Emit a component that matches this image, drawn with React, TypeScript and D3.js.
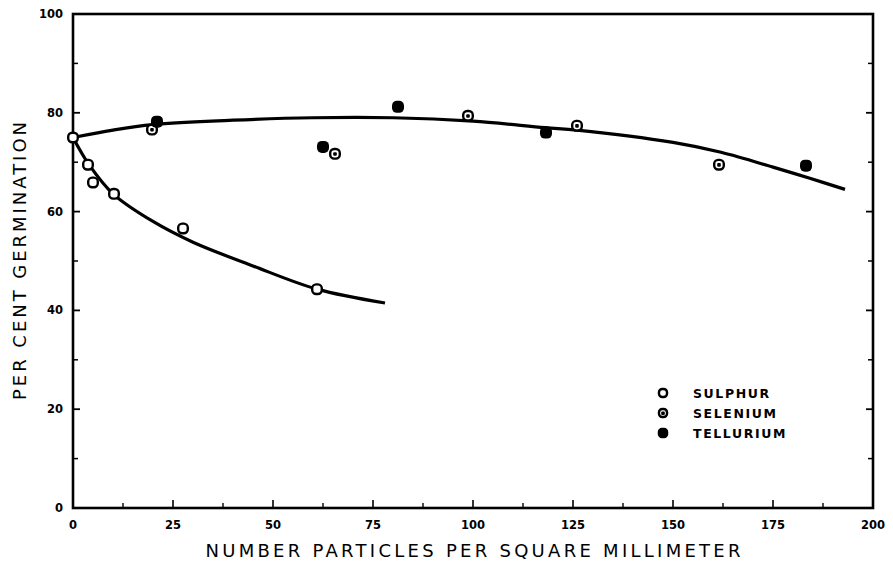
import React from "react";
import * as d3 from "d3";

// ---- Data ----
const sulphurX = [0, 3.75, 5, 10.25, 27.5, 61];
const sulphurY = [75, 69.5, 65.9, 63.6, 56.6, 44.3];

const seleniumX = [19.75, 65.5, 98.75, 126, 161.5];
const seleniumY = [76.6, 71.7, 79.4, 77.4, 69.5];

const telluriumX = [21, 62.5, 81.25, 118.25, 183.25];
const telluriumY = [78.2, 73.1, 81.2, 76, 69.3];

// fitted curves drawn in the figure
const upperCurveX = [0, 10, 20, 40, 60, 80, 100, 118, 126, 150, 162, 175, 184, 193];
const upperCurveY = [75, 76.5, 77.6, 78.5, 79, 79, 78.3, 77, 76.5, 74, 72, 69, 66.8, 64.5];

const lowerCurveX = [0, 4, 10, 20, 30, 45, 61, 78];
const lowerCurveY = [75, 69.5, 63.6, 58, 53.8, 49, 44.3, 41.5];

const xTickValues = [0, 25, 50, 75, 100, 125, 150, 175, 200];
const xMinorTicks = [12.5, 37.5, 62.5, 87.5, 112.5, 137.5, 162.5, 187.5];
const yTickValues = [0, 20, 40, 60, 80, 100];
const yMinorTicks = [10, 30, 50, 70, 90];

const legendLabels = ["SULPHUR", "SELENIUM", "TELLURIUM"];

const W = 893;
const H = 569;
const left = 73;
const right = 873;
const top = 14;
const bottom = 508;

const FONT = "'DejaVu Sans', 'Liberation Sans', sans-serif";

function Marker({ cx, cy, kind, s = 12 }: { cx: number; cy: number; kind: string; s?: number }) {
  const h = s / 2;
  if (kind === "tellurium") {
    return <rect x={cx - h} y={cy - h} width={s} height={s} rx={s * 0.4} fill="#000" />;
  }
  return (
    <g>
      <rect x={cx - h + 1.2} y={cy - h + 1.2} width={s - 2.4} height={s - 2.4} rx={s * 0.33} fill="#fff" stroke="#000" strokeWidth={2.4} />
      {kind === "selenium" && <rect x={cx - 1.8} y={cy - 1.6} width={3.6} height={3.6} rx={1} fill="#000" />}
    </g>
  );
}

export default function App() {
  const x = d3.scaleLinear().domain([0, 200]).range([left, right]);
  const y = d3.scaleLinear().domain([0, 100]).range([bottom, top]);

  const line = d3
    .line<[number, number]>()
    .x((d) => x(d[0]))
    .y((d) => y(d[1]))
    .curve(d3.curveCatmullRom.alpha(0.5));

  const upper = line(upperCurveX.map((v, i) => [v, upperCurveY[i]] as [number, number])) || "";
  const lower = line(lowerCurveX.map((v, i) => [v, lowerCurveY[i]] as [number, number])) || "";

  const legendX = 663;
  const legendY = [393, 413, 433];
  const legendKinds = ["sulphur", "selenium", "tellurium"];

  return (
    <svg width={W} height={H} style={{ position: "absolute", left: 0, top: 0, background: "#fff" }}>
      <rect x={0} y={0} width={W} height={H} fill="#fff" />
      {/* frame */}
      <rect x={left} y={top} width={right - left} height={bottom - top} fill="none" stroke="#000" strokeWidth={2.6} />

      {/* y ticks (inward, both sides) */}
      {yTickValues.map((v) => (
        <g key={"yt" + v}>
          <line x1={left} x2={left + 7} y1={y(v)} y2={y(v)} stroke="#000" strokeWidth={1.8} />
          <line x1={right} x2={right - 7} y1={y(v)} y2={y(v)} stroke="#000" strokeWidth={1.8} />
          <text x={left - 10} y={y(v)} dy="0.35em" textAnchor="end" fontFamily={FONT} fontWeight="bold" fontSize={11.5}>
            {v}
          </text>
        </g>
      ))}
      {yMinorTicks.map((v) => (
        <g key={"ym" + v}>
          <line x1={left} x2={left + 5} y1={y(v)} y2={y(v)} stroke="#000" strokeWidth={1.5} />
          <line x1={right} x2={right - 5} y1={y(v)} y2={y(v)} stroke="#000" strokeWidth={1.5} />
        </g>
      ))}

      {/* x ticks */}
      {xTickValues.map((v) => (
        <g key={"xt" + v}>
          <line x1={x(v)} x2={x(v)} y1={bottom} y2={bottom - 8} stroke="#000" strokeWidth={1.6} />
          <text x={x(v)} y={bottom + 17} dy="0.35em" textAnchor="middle" fontFamily={FONT} fontWeight="bold" fontSize={11.5}>
            {v}
          </text>
        </g>
      ))}
      {xMinorTicks.map((v) => (
        <line key={"xm" + v} x1={x(v)} x2={x(v)} y1={bottom} y2={bottom - 5} stroke="#000" strokeWidth={1.4} />
      ))}

      {/* axis titles */}
      <text
        x={(left + right) / 2}
        y={557}
        textAnchor="middle"
        fontFamily={FONT}
        fontSize={18}
        textLength={535}
        lengthAdjust="spacing"
      >
        NUMBER PARTICLES PER SQUARE MILLIMETER
      </text>
      <text
        transform={`translate(26, ${(top + bottom) / 2}) rotate(-90)`}
        textAnchor="middle"
        fontFamily={FONT}
        fontSize={18}
        textLength={278}
        lengthAdjust="spacing"
      >
        PER CENT GERMINATION
      </text>

      {/* curves */}
      <path d={upper} fill="none" stroke="#000" strokeWidth={3.2} />
      <path d={lower} fill="none" stroke="#000" strokeWidth={3.2} />

      {/* points */}
      {sulphurX.map((v, i) => (
        <Marker key={"s" + i} cx={x(v)} cy={y(sulphurY[i])} kind="sulphur" />
      ))}
      {seleniumX.map((v, i) => (
        <Marker key={"se" + i} cx={x(v)} cy={y(seleniumY[i])} kind="selenium" />
      ))}
      {telluriumX.map((v, i) => (
        <Marker key={"t" + i} cx={x(v)} cy={y(telluriumY[i])} kind="tellurium" />
      ))}

      {/* legend */}
      {legendLabels.map((lab, i) => (
        <g key={lab}>
          <Marker cx={legendX} cy={legendY[i]} kind={legendKinds[i]} s={10.5} />
          <text x={legendX + 30} y={legendY[i]} dy="0.36em" fontFamily={FONT} fontWeight="bold" fontSize={12.5} letterSpacing={1.6}>
            {lab}
          </text>
        </g>
      ))}
    </svg>
  );
}
